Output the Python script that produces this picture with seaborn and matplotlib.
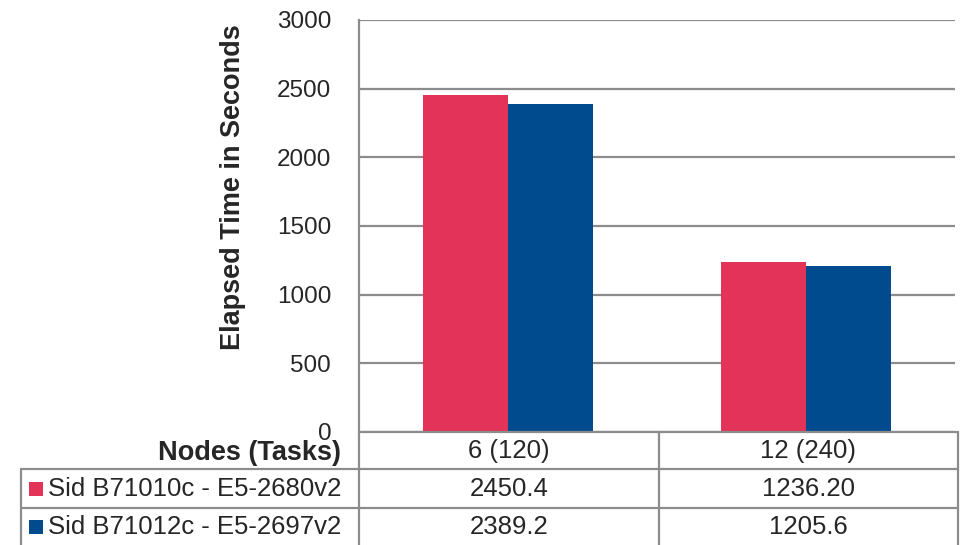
import matplotlib
matplotlib.use("Agg")
import matplotlib.pyplot as plt
from matplotlib.lines import Line2D
from matplotlib.patches import Rectangle
import seaborn as sns
import pandas as pd

# Benchmark data
categories = ["6 (120)", "12 (240)"]
series_names = ["Sid B71010c - E5-2680v2", "Sid B71012c - E5-2697v2"]
series_labels = [["2450.4", "1236.20"], ["2389.2", "1205.6"]]
series_values = [[float(v) for v in row] for row in series_labels]
colors = ["#E33358", "#004B8D"]
y_ticks = [0, 500, 1000, 1500, 2000, 2500, 3000]
header_label = "Nodes (Tasks)"
y_title = "Elapsed Time in Seconds"

sns.set_theme(style="white")
plt.rcParams["font.family"] = ["Liberation Sans", "DejaVu Sans"]

W, H = 965, 545
fig = plt.figure(figsize=(W / 100, H / 100), dpi=100)

def fx(px):
    return px / W

def fy(py):
    return 1 - py / H

ax_l, ax_r, ax_t, ax_b = 359, 955, 20, 432
ax = fig.add_axes([fx(ax_l), fy(ax_b), fx(ax_r - ax_l), (ax_b - ax_t) / H])

df = pd.DataFrame(
    [
        {"cat": c, "series": s, "value": series_values[i][j]}
        for i, s in enumerate(series_names)
        for j, c in enumerate(categories)
    ]
)
sns.barplot(
    data=df, x="cat", y="value", hue="series", order=categories,
    hue_order=series_names, palette=colors, width=0.57, gap=0,
    saturation=1, legend=False, ax=ax, errorbar=None, linewidth=0,
)

grid_color = "#8C8C8C"
ax.set_xlim(-0.5, len(categories) - 0.5)
ax.set_ylim(0, 3000)
ax.set_yticks(y_ticks)
ax.set_yticklabels([str(t) for t in y_ticks], fontsize=17.5)
ax.tick_params(axis="y", length=0, pad=20)
ax.set_xticks([])
ax.set_xlabel("")
ax.set_ylabel("")
ax.yaxis.grid(True, color=grid_color, linewidth=1.6)
ax.set_axisbelow(True)
for side in ["top", "right", "bottom"]:
    ax.spines[side].set_visible(False)
ax.spines["left"].set_color(grid_color)
ax.spines["left"].set_linewidth(1.6)

fig.text(fx(233), fy(187), y_title, rotation=90, ha="center", va="center",
         fontsize=19.5, fontweight="bold")

# Data table below the plot
def hline(x0, x1, y):
    fig.add_artist(Line2D([fx(x0), fx(x1)], [fy(y), fy(y)], color=grid_color, lw=1.6))

def vline(x, y0, y1):
    fig.add_artist(Line2D([fx(x), fx(x)], [fy(y0), fy(y1)], color=grid_color, lw=1.6))

tbl_left, tbl_right = 21, 958
col_x = [359, 659, 958]
row_y = [432, 469, 508, 545]

hline(col_x[0], tbl_right, row_y[0])
hline(tbl_left, tbl_right, row_y[1])
hline(tbl_left, tbl_right, row_y[2])
vline(tbl_left, row_y[1], row_y[3])
for x in col_x:
    vline(x, row_y[0], row_y[3])

fig.text(fx(341), fy(453), header_label, ha="right", va="center",
         fontsize=19.5, fontweight="bold")
for j, c in enumerate(categories):
    cx = (col_x[j] + col_x[j + 1]) / 2
    fig.text(fx(cx), fy(451), c, ha="center", va="center", fontsize=18.5)

for i, name in enumerate(series_names):
    cy = (row_y[i + 1] + row_y[i + 2]) / 2
    fig.add_artist(Rectangle((fx(29), fy(cy + 7)), fx(14), 14 / H,
                             facecolor=colors[i], edgecolor="none"))
    fig.text(fx(48), fy(cy), name, ha="left", va="center", fontsize=18.5)
    for j in range(len(categories)):
        cx = (col_x[j] + col_x[j + 1]) / 2
        fig.text(fx(cx), fy(cy), series_labels[i][j], ha="center", va="center", fontsize=18.5)

fig.savefig("out.png", dpi=100)
